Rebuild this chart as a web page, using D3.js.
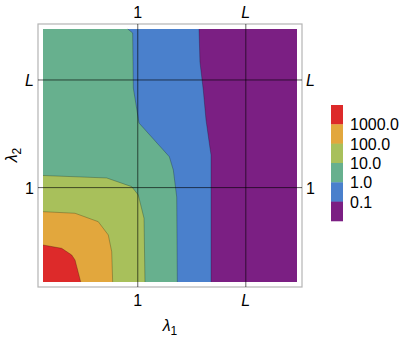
<!DOCTYPE html>
<html>
<head>
<meta charset="utf-8">
<script src="https://cdn.jsdelivr.net/npm/d3@7"></script>
<style>
  body { margin: 0; background: #fff; }
  text { font-family: "Liberation Sans", Arial, sans-serif; }
</style>
</head>
<body>
<script>
"use strict";

// contour levels, low to high, and the band colours (lowest band first)
var levels = [0.1, 1, 10, 100, 1000];
var bandColors = ["#7b1f83", "#4a80cc", "#67b08e", "#a8c05b", "#e2a73d", "#dd2a2a"];
var legendLabels = ["1000.0", "100.0", "10.0", "1.0", "0.1"];

// tick marks (both axes share them)
var tickValues = [1, 2.14];
var tickLabels = ["1", "L"];

// boundary lines, in (lambda1, lambda2) units
var contour01 = [[1.646, 2.68], [1.656, 2.331], [1.691, 2.034], [1.720, 1.716], [1.762, 1.419], [1.773, 1.345], [1.773, 0]];
var contour1 = [[0.894, 2.68], [0.946, 2.638], [0.953, 2.055], [1.013, 1.684], [1.333, 1.327], [1.375, 1.186], [1.411, 0.900], [1.417, 0]];
var contour10 = [[0, 1.128], [0.672, 1.102], [0.936, 1.010], [1.005, 0.922], [1.066, 0.675], [1.076, 0]];
var contour100 = [[0, 0.745], [0.338, 0.728], [0.583, 0.639], [0.689, 0.498], [0.725, 0.321], [0.735, 0]];
var contour1000 = [[0, 0.392], [0.197, 0.357], [0.303, 0.286], [0.338, 0.233], [0.398, 0]];
var contours = [contour01, contour1, contour10, contour100, contour1000];

var W = 409, H = 337;
var maxVal = 2.68;
var plot = { left: 43, right: 297, top: 29, bottom: 282 };
var pad = 5;

var svg = d3.select("body").append("svg").attr("width", W).attr("height", H);

var xScale = d3.scaleLinear().domain([0, maxVal]).range([plot.left, plot.right]);
var yScale = d3.scaleLinear().domain([0, maxVal]).range([plot.bottom, plot.top]);

//Frame
svg.append("rect")
  .attr("x", plot.left - pad).attr("y", plot.top - pad)
  .attr("width", plot.right - plot.left + 2 * pad).attr("height", plot.bottom - plot.top + 2 * pad)
  .attr("fill", "none").attr("stroke", "#b4b4b4").attr("stroke-width", 1.2);

//Lowest band fills the whole plot
svg.append("rect")
  .attr("x", xScale(0)).attr("y", yScale(maxVal))
  .attr("width", xScale(maxVal) - xScale(0)).attr("height", yScale(0) - yScale(maxVal))
  .attr("fill", bandColors[0]);

var line = d3.line().x(function (d) { return xScale(d[0]); }).y(function (d) { return yScale(d[1]); });

//Each higher band is the region left/below its boundary
contours.forEach(function (c, i) {
  var poly = c.slice();
  if (c[0][0] > 0) poly.unshift([0, maxVal]);
  poly.push([0, 0]);
  svg.append("path").attr("d", line(poly) + "Z").attr("fill", bandColors[i + 1]);
  svg.append("path").attr("d", line(c)).attr("fill", "none")
    .attr("stroke", "rgba(0,0,0,0.3)").attr("stroke-width", 0.8);
});

//Grid lines
var grid = svg.append("g").attr("stroke", "rgba(0,0,0,0.62)").attr("stroke-width", 1);
tickValues.forEach(function (v) {
  grid.append("line").attr("x1", xScale(v)).attr("x2", xScale(v))
    .attr("y1", plot.top - pad).attr("y2", plot.bottom + pad);
  grid.append("line").attr("y1", yScale(v)).attr("y2", yScale(v))
    .attr("x1", plot.left - pad).attr("x2", plot.right + pad);
});

//Tick labels on all four sides
var fs = 16;
tickValues.forEach(function (v, i) {
  var italic = tickLabels[i] === "L" ? "italic" : "normal";
  svg.append("text").attr("x", xScale(v)).attr("y", 18).attr("text-anchor", "middle")
    .style("font-size", fs + "px").style("font-style", italic).text(tickLabels[i]);
  svg.append("text").attr("x", xScale(v)).attr("y", 306).attr("text-anchor", "middle")
    .style("font-size", fs + "px").style("font-style", italic).text(tickLabels[i]);
  svg.append("text").attr("x", 34).attr("y", yScale(v) + 6).attr("text-anchor", "end")
    .style("font-size", fs + "px").style("font-style", italic).text(tickLabels[i]);
  svg.append("text").attr("x", 306).attr("y", yScale(v) + 6).attr("text-anchor", "start")
    .style("font-size", fs + "px").style("font-style", italic).text(tickLabels[i]);
});

//Axis titles
var xt = svg.append("text").attr("x", 170).attr("y", 331).attr("text-anchor", "middle").style("font-size", fs + "px");
xt.append("tspan").style("font-style", "italic").text("\u03bb");
xt.append("tspan").attr("dy", 4).style("font-size", "12px").text("1");

var yt = svg.append("text").attr("transform", "translate(17,155) rotate(-90)").attr("text-anchor", "middle").style("font-size", fs + "px");
yt.append("tspan").style("font-style", "italic").text("\u03bb");
yt.append("tspan").attr("dy", 4).style("font-size", "12px").text("2");

//Legend
var legend = { x: 331, y: 105, w: 12, h: 19.33 };
var legendColors = bandColors.slice().reverse();
var lg = svg.append("g");
lg.selectAll("rect").data(legendColors).enter().append("rect")
  .attr("x", legend.x).attr("y", function (d, i) { return legend.y + i * legend.h; })
  .attr("width", legend.w).attr("height", legend.h + 0.3)
  .attr("fill", function (d) { return d; });
lg.selectAll("text").data(legendLabels).enter().append("text")
  .attr("x", legend.x + 19).attr("y", function (d, i) { return legend.y + (i + 1) * legend.h + 6; })
  .style("font-size", fs + "px").text(function (d) { return d; });
</script>
</body>
</html>
